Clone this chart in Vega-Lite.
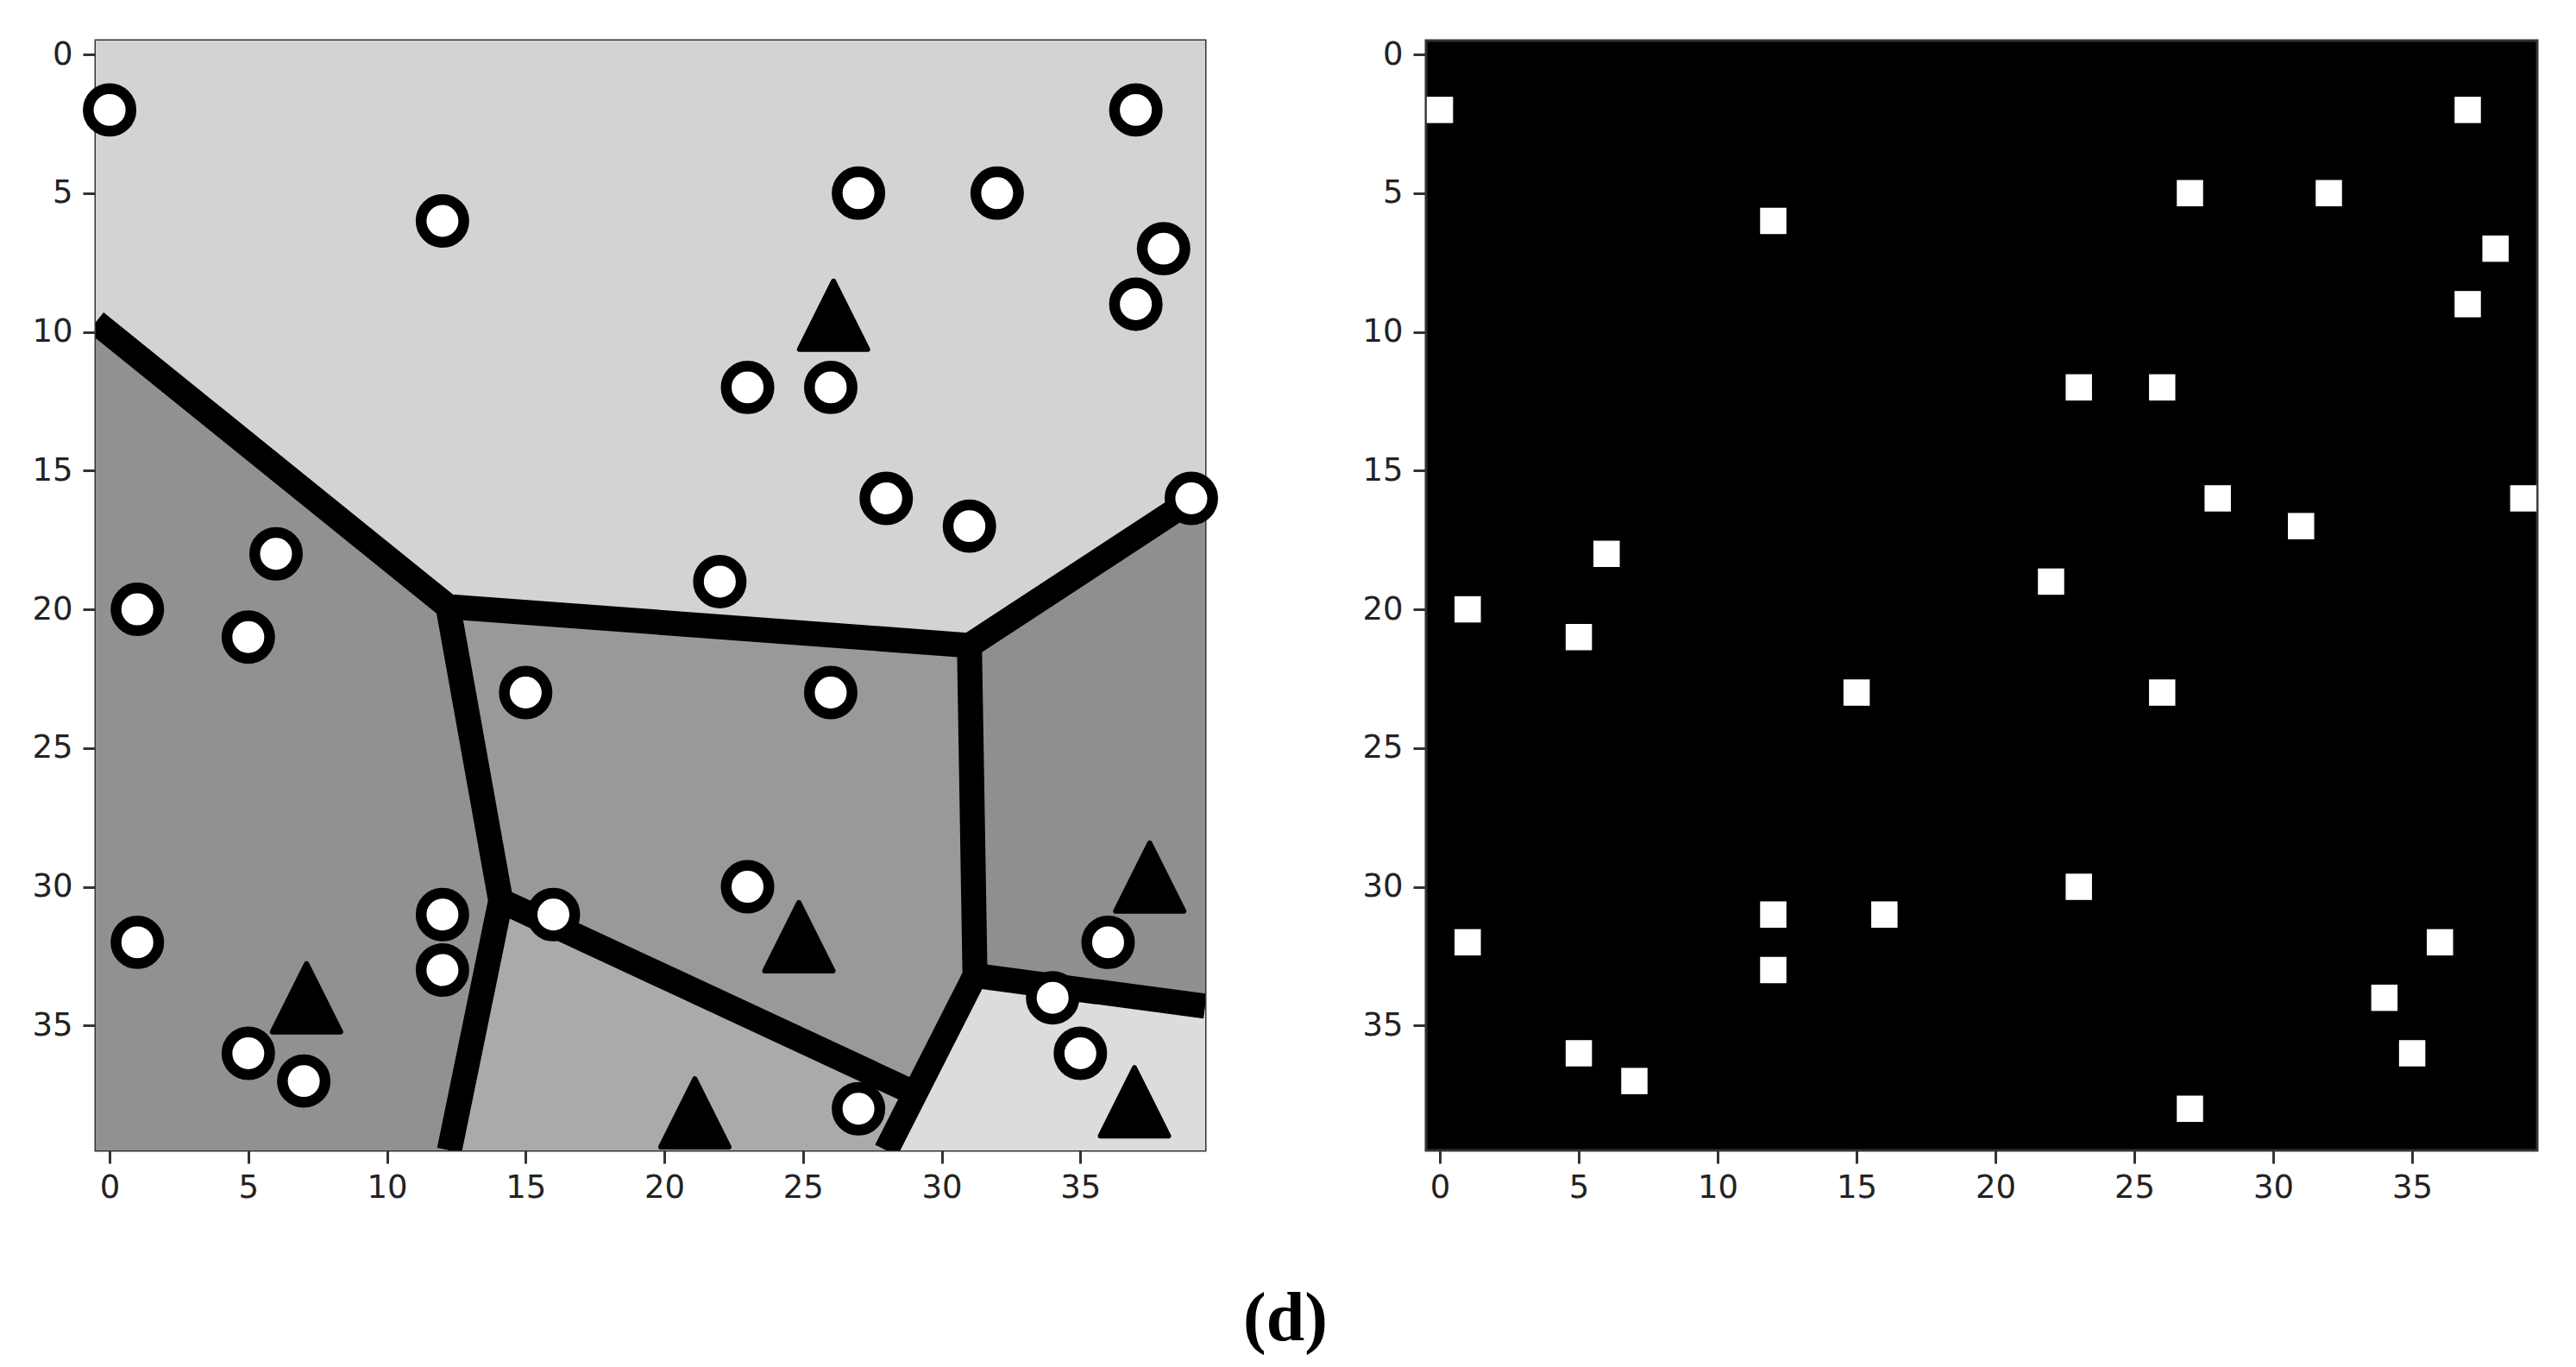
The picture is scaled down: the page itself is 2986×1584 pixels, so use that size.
{
  "$schema": "https://vega.github.io/schema/vega-lite/v6.json",
  "padding": {"left": 7, "top": 42, "right": 5, "bottom": 5},
  "background": "white",
  "datasets": {
    "regions": [
      {"region": "A", "i": 1, "x": -0.5, "y": -0.5},
      {"region": "A", "i": 2, "x": 39.5, "y": -0.5},
      {"region": "A", "i": 3, "x": 39.5, "y": 15.75},
      {"region": "A", "i": 4, "x": 31.0, "y": 21.3},
      {"region": "A", "i": 5, "x": 12.2, "y": 19.9},
      {"region": "A", "i": 6, "x": -0.5, "y": 9.65},
      {"region": "B", "i": 1, "x": -0.5, "y": 9.65},
      {"region": "B", "i": 2, "x": 12.2, "y": 19.9},
      {"region": "B", "i": 3, "x": 14.1, "y": 30.5},
      {"region": "B", "i": 4, "x": 12.25, "y": 39.5},
      {"region": "B", "i": 5, "x": -0.5, "y": 39.5},
      {"region": "C", "i": 1, "x": 12.2, "y": 19.9},
      {"region": "C", "i": 2, "x": 31.0, "y": 21.3},
      {"region": "C", "i": 3, "x": 31.2, "y": 33.2},
      {"region": "C", "i": 4, "x": 29.05, "y": 37.45},
      {"region": "C", "i": 5, "x": 14.1, "y": 30.5},
      {"region": "D", "i": 1, "x": 31.0, "y": 21.3},
      {"region": "D", "i": 2, "x": 39.5, "y": 15.75},
      {"region": "D", "i": 3, "x": 39.5, "y": 34.3},
      {"region": "D", "i": 4, "x": 31.2, "y": 33.2},
      {"region": "E", "i": 1, "x": 14.1, "y": 30.5},
      {"region": "E", "i": 2, "x": 29.05, "y": 37.45},
      {"region": "E", "i": 3, "x": 28.0, "y": 39.5},
      {"region": "E", "i": 4, "x": 12.25, "y": 39.5},
      {"region": "F", "i": 1, "x": 31.2, "y": 33.2},
      {"region": "F", "i": 2, "x": 39.5, "y": 34.3},
      {"region": "F", "i": 3, "x": 39.5, "y": 39.5},
      {"region": "F", "i": 4, "x": 28.0, "y": 39.5}
    ],
    "edges": [
      {"path": "p1", "i": 1, "x": -0.5, "y": 9.65},
      {"path": "p1", "i": 2, "x": 12.2, "y": 19.9},
      {"path": "p1", "i": 3, "x": 31.0, "y": 21.3},
      {"path": "p1", "i": 4, "x": 39.1, "y": 16.0},
      {"path": "p2", "i": 1, "x": 12.2, "y": 19.9},
      {"path": "p2", "i": 2, "x": 14.1, "y": 30.5},
      {"path": "p2", "i": 3, "x": 12.25, "y": 39.5},
      {"path": "p3", "i": 1, "x": 14.1, "y": 30.5},
      {"path": "p3", "i": 2, "x": 29.05, "y": 37.45},
      {"path": "p4", "i": 1, "x": 31.0, "y": 21.3},
      {"path": "p4", "i": 2, "x": 31.2, "y": 33.2},
      {"path": "p4", "i": 3, "x": 28.0, "y": 39.5},
      {"path": "p5", "i": 1, "x": 31.2, "y": 33.2},
      {"path": "p5", "i": 2, "x": 39.5, "y": 34.3}
    ],
    "circles": [
      {"x": 0, "y": 2}, {"x": 12, "y": 6}, {"x": 27, "y": 5}, {"x": 32, "y": 5},
      {"x": 37, "y": 2}, {"x": 38, "y": 7}, {"x": 37, "y": 9}, {"x": 23, "y": 12},
      {"x": 26, "y": 12}, {"x": 28, "y": 16}, {"x": 31, "y": 17}, {"x": 39, "y": 16},
      {"x": 6, "y": 18}, {"x": 22, "y": 19}, {"x": 1, "y": 20}, {"x": 5, "y": 21},
      {"x": 15, "y": 23}, {"x": 26, "y": 23}, {"x": 23, "y": 30}, {"x": 12, "y": 31},
      {"x": 16, "y": 31}, {"x": 1, "y": 32}, {"x": 12, "y": 33}, {"x": 36, "y": 32},
      {"x": 34, "y": 34}, {"x": 5, "y": 36}, {"x": 7, "y": 37}, {"x": 35, "y": 36},
      {"x": 27, "y": 38}
    ],
    "triangles": [
      {"x": 26.1, "y": 9.4},
      {"x": 37.5, "y": 29.65},
      {"x": 24.85, "y": 31.8},
      {"x": 7.1, "y": 34.0},
      {"x": 21.1, "y": 38.15},
      {"x": 36.95, "y": 37.75}
    ]
  },
  "title": {
    "text": "(d)",
    "orient": "bottom",
    "anchor": "middle",
    "font": "Liberation Serif",
    "fontSize": 80,
    "fontWeight": "bold",
    "color": "black",
    "offset": 94,
    "dx": 15
  },
  "config": {
    "view": {"stroke": "#333333", "strokeWidth": 3},
    "axis": {
      "domain": false,
      "grid": false,
      "ticks": true,
      "tickSize": 15,
      "tickWidth": 3,
      "tickColor": "#333333",
      "labelFont": "DejaVu Sans",
      "labelFontSize": 37,
      "labelColor": "#222222",
      "labelFlush": false,
      "labelOverlap": false,
      "title": null
    },
    "axisX": {"labelPadding": 10},
    "axisY": {"labelPadding": 12, "minExtent": 102, "maxExtent": 102}
  },
  "hconcat": [
    {
      "width": 1286,
      "height": 1286,
      "view": {"fill": "#d3d3d3"},
      "encoding": {
        "x": {"field": "x", "type": "quantitative", "scale": {"domain": [-0.5, 39.5], "nice": false, "zero": false},
          "axis": {"values": [0, 5, 10, 15, 20, 25, 30, 35]}},
        "y": {"field": "y", "type": "quantitative", "scale": {"domain": [-0.5, 39.5], "nice": false, "zero": false, "reverse": true},
          "axis": {"values": [0, 5, 10, 15, 20, 25, 30, 35]}}
      },
      "layer": [
        {
          "data": {"name": "regions"},
          "mark": {"type": "line", "filled": true, "strokeWidth": 0, "clip": true, "interpolate": "linear"},
          "encoding": {
            "fill": {"field": "region", "type": "nominal", "legend": null,
              "scale": {"domain": ["A", "B", "C", "D", "E", "F"], "range": ["#d3d3d3", "#919191", "#999999", "#8f8f8f", "#aaaaaa", "#dcdcdc"]}},
            "order": {"field": "i", "type": "quantitative"}
          }
        },
        {
          "data": {"name": "edges"},
          "mark": {"type": "line", "color": "black", "strokeWidth": 29, "strokeJoin": "miter", "strokeCap": "butt", "clip": true},
          "encoding": {
            "detail": {"field": "path", "type": "nominal"},
            "order": {"field": "i", "type": "quantitative"}
          }
        },
        {
          "data": {"name": "circles"},
          "mark": {"type": "point", "shape": "circle", "filled": true, "fill": "white", "stroke": "black", "strokeWidth": 12.5, "size": 2450, "opacity": 1}
        },
        {
          "data": {"name": "triangles"},
          "mark": {"type": "point", "shape": "M0,-1L1,1L-1,1Z", "filled": true, "fill": "black", "stroke": "black", "strokeWidth": 6, "strokeJoin": "round", "size": 6241, "opacity": 1}
        }
      ]
    },
    {
      "width": 1288,
      "height": 1286,
      "view": {"fill": "black"},
      "data": {"name": "circles"},
      "mark": {"type": "square", "size": 930, "filled": true, "color": "white", "opacity": 1},
      "encoding": {
        "x": {"field": "x", "type": "quantitative", "scale": {"domain": [-0.5, 39.5], "nice": false, "zero": false},
          "axis": {"values": [0, 5, 10, 15, 20, 25, 30, 35]}},
        "y": {"field": "y", "type": "quantitative", "scale": {"domain": [-0.5, 39.5], "nice": false, "zero": false, "reverse": true},
          "axis": {"values": [0, 5, 10, 15, 20, 25, 30, 35]}}
      }
    }
  ],
  "spacing": 116,
  "resolve": {"scale": {"x": "independent", "y": "independent"}}
}
